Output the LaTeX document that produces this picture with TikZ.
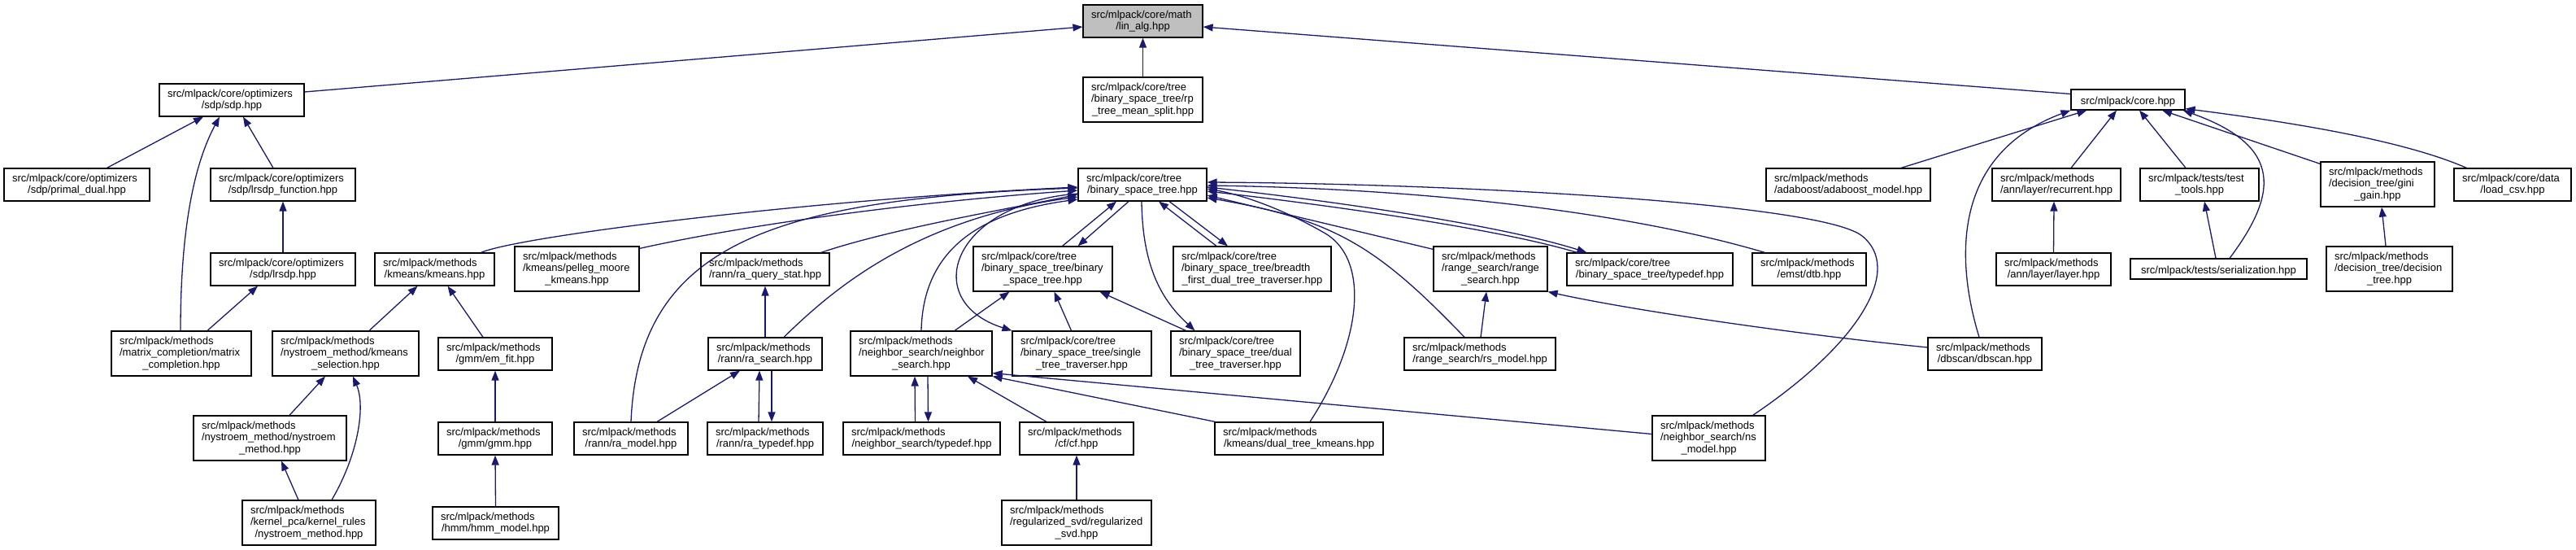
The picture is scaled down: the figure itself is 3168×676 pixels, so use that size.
\documentclass[tikz,border=0pt]{standalone}
\usepackage{fontspec}
\setmainfont{Liberation Sans}
\usetikzlibrary{arrows.meta}
\definecolor{edgec}{RGB}{25,25,112}
\definecolor{rootgray}{RGB}{191,191,191}
\hyphenpenalty=10000
\exhyphenpenalty=10000
\newcommand\lastl[1]{\par\centering #1\par}
\newcommand\nd[7]{\node[nb, minimum width=#4pt, minimum height=#5pt, text width=#6pt] (#1) at (#2,#3) {\raggedright #7};}
\begin{document}
\begin{tikzpicture}[x=1pt,y=-1pt,
  nb/.style={draw=black, line width=1.2pt, fill=white, inner xsep=0pt, inner ysep=1pt,
    font=\fontsize{13}{14.5}\selectfont},
  ar/.style={draw=edgec, line width=1.3pt, -{Triangle[length=12pt,width=9pt]}}]
\useasboundingbox (0,0) rectangle (3168,676);
% nodes
\node[nb, fill=rootgray, minimum width=147pt, minimum height=40pt, text width=127pt] (lin) at (1405.5,26) {\raggedright src/mlpack/core/math\lastl{/lin\_alg.hpp}};
\nd{sdp}{285}{123}{178}{40}{158}{src/mlpack/core/optimizers\lastl{/sdp/sdp.hpp}}
\nd{primal}{94.5}{227}{179}{40}{159}{src/mlpack/core/optimizers\lastl{/sdp/primal\_dual.hpp}}
\nd{lrsdpf}{348}{227}{178}{40}{158}{src/mlpack/core/optimizers\lastl{/sdp/lrsdp\_function.hpp}}
\nd{lrsdp}{348}{331}{178}{40}{158}{src/mlpack/core/optimizers\lastl{/sdp/lrsdp.hpp}}
\nd{matc}{223}{434.5}{172}{55}{152}{src/mlpack/methods\par /matrix\_completion/matrix\lastl{\_completion.hpp}}
\nd{kmeans}{534.5}{331}{147}{40}{127}{src/mlpack/methods\lastl{/kmeans/kmeans.hpp}}
\nd{pelleg}{709.5}{330.5}{153}{55}{133}{src/mlpack/methods\par /kmeans/pelleg\_moore\lastl{\_kmeans.hpp}}
\nd{ksel}{425}{434.5}{180}{55}{160}{src/mlpack/methods\par /nystroem\_method/kmeans\lastl{\_selection.hpp}}
\nd{emfit}{609}{435}{140}{40}{120}{src/mlpack/methods\lastl{/gmm/em\_fit.hpp}}
\nd{nysm}{332}{538.5}{188}{55}{168}{src/mlpack/methods\par /nystroem\_method/nystroem\lastl{\_method.hpp}}
\nd{gmm}{609}{539}{140}{40}{120}{src/mlpack/methods\lastl{/gmm/gmm.hpp}}
\nd{kpca}{380}{642.5}{164}{55}{144}{src/mlpack/methods\par /kernel\_pca/kernel\_rules\lastl{/nystroem\_method.hpp}}
\nd{hmm}{609.5}{643}{155}{40}{135}{src/mlpack/methods\lastl{/hmm/hmm\_model.hpp}}
\nd{rp}{1405.5}{122.5}{147}{55}{127}{src/mlpack/core/tree\par /binary\_space\_tree/rp\lastl{\_tree\_mean\_split.hpp}}
\nd{bst}{1405}{227}{158}{40}{138}{src/mlpack/core/tree\lastl{/binary\_space\_tree.hpp}}
\nd{raqs}{941}{331}{158}{40}{138}{src/mlpack/methods\lastl{/rann/ra\_query\_stat.hpp}}
\nd{bstb}{1282.5}{330.5}{171}{55}{151}{src/mlpack/core/tree\par /binary\_space\_tree/binary\lastl{\_space\_tree.hpp}}
\nd{bstbf}{1540}{330.5}{194}{55}{174}{src/mlpack/core/tree\par /binary\_space\_tree/breadth\lastl{\_first\_dual\_tree\_traverser.hpp}}
\nd{ras}{941}{435}{140}{40}{120}{src/mlpack/methods\lastl{/rann/ra\_search.hpp}}
\nd{nsearch}{1133}{434.5}{174}{55}{154}{src/mlpack/methods\par /neighbor\_search/neighbor\lastl{\_search.hpp}}
\nd{single}{1330.5}{434.5}{171}{55}{151}{src/mlpack/core/tree\par /binary\_space\_tree/single\lastl{\_tree\_traverser.hpp}}
\nd{dual}{1519.5}{434.5}{159}{55}{139}{src/mlpack/core/tree\par /binary\_space\_tree/dual\lastl{\_tree\_traverser.hpp}}
\nd{ramodel}{776}{539}{140}{40}{120}{src/mlpack/methods\lastl{/rann/ra\_model.hpp}}
\nd{ratd}{941}{539}{142}{40}{122}{src/mlpack/methods\lastl{/rann/ra\_typedef.hpp}}
\nd{nstd}{1133.5}{539}{193}{40}{173}{src/mlpack/methods\lastl{/neighbor\_search/typedef.hpp}}
\nd{cf}{1324}{539}{140}{40}{120}{src/mlpack/methods\lastl{/cf/cf.hpp}}
\nd{dtk}{1597.5}{539}{207}{40}{187}{src/mlpack/methods\lastl{/kmeans/dual\_tree\_kmeans.hpp}}
\nd{rsvd}{1324}{642.5}{184}{55}{164}{src/mlpack/methods\par /regularized\_svd/regularized\lastl{\_svd.hpp}}
\nd{rsearch}{1833}{330.5}{140}{55}{120}{src/mlpack/methods\par /range\_search/range\lastl{\_search.hpp}}
\nd{bsttd}{2029}{331}{204}{40}{184}{src/mlpack/core/tree\lastl{/binary\_space\_tree/typedef.hpp}}
\nd{dtb}{2225}{331}{140}{40}{120}{src/mlpack/methods\lastl{/emst/dtb.hpp}}
\nd{rsmodel}{1820}{435}{186}{40}{166}{src/mlpack/methods\lastl{/range\_search/rs\_model.hpp}}
\nd{dbscan}{2441}{435}{140}{40}{120}{src/mlpack/methods\lastl{/dbscan/dbscan.hpp}}
\nd{nsmodel}{2101.5}{538.5}{139}{55}{119}{src/mlpack/methods\par /neighbor\_search/ns\lastl{\_model.hpp}}
\nd{adaboost}{2273}{227}{202}{40}{182}{src/mlpack/methods\lastl{/adaboost/adaboost\_model.hpp}}
\nd{core}{2617}{122.5}{140}{25}{120}{\lastl{src/mlpack/core.hpp}}
\nd{recurrent}{2529}{227}{158}{40}{138}{src/mlpack/methods\lastl{/ann/layer/recurrent.hpp}}
\nd{testtools}{2705}{227}{146}{40}{126}{src/mlpack/tests/test\lastl{\_tools.hpp}}
\nd{gini}{2924}{226.5}{140}{55}{120}{src/mlpack/methods\par /decision\_tree/gini\lastl{\_gain.hpp}}
\nd{loadcsv}{3090}{227}{144}{40}{124}{src/mlpack/core/data\lastl{/load\_csv.hpp}}
\nd{layer}{2525.5}{331}{141}{40}{121}{src/mlpack/methods\lastl{/ann/layer/layer.hpp}}
\nd{serial}{2728.5}{330.5}{217}{25}{197}{\lastl{src/mlpack/tests/serialization.hpp}}
\nd{dtree}{2938.5}{330.5}{155}{55}{135}{src/mlpack/methods\par /decision\_tree/decision\lastl{\_tree.hpp}}
% edges to lin_alg
\draw[ar] ([yshift=10pt]sdp.east) -- ([yshift=-7pt]lin.west);
\draw[ar] (rp.north) -- (lin.south);
\draw[ar] ([yshift=7pt]core.west) -- ([yshift=-7pt]lin.east);
% sdp cluster
\draw[ar] ([xshift=37pt]primal.north) -- ([xshift=-35pt]sdp.south);
\draw[ar] ([xshift=-1pt]matc.north) .. controls (222,260) and (245,190) .. ([xshift=-15pt]sdp.south);
\draw[ar] ([xshift=-12pt]lrsdpf.north) -- ([xshift=14pt]sdp.south);
\draw[ar] (lrsdp.north) -- (lrsdpf.south);
\draw[ar] ([xshift=32pt]matc.north) -- ([xshift=-31pt]lrsdp.south);
% kmeans cluster
\draw[ar] ([xshift=29pt]ksel.north) -- ([xshift=-21pt]kmeans.south);
\draw[ar] ([xshift=-15pt]emfit.north) -- ([xshift=16pt]kmeans.south);
\draw[ar] ([xshift=24pt]nysm.north) -- ([xshift=-25pt]ksel.south);
\draw[ar] ([xshift=28pt]kpca.north) .. controls (440,560) and (450,500) .. ([xshift=9pt]ksel.south);
\draw[ar] ([xshift=-13pt]kpca.north) -- ([xshift=14pt]nysm.south);
\draw[ar] (gmm.north) -- (emfit.south);
\draw[ar] (hmm.north) -- (gmm.south);
% into bst from left
\draw[ar] ([xshift=57pt]kmeans.north) .. controls (640,290) and (1000,245) .. ([yshift=-3pt]bst.west);
\draw[ar] ([yshift=-3pt]pelleg.north east) .. controls (900,280) and (1100,250) .. ([yshift=-7pt]bst.west);
\draw[ar] ([xshift=-11pt]raqs.north east) .. controls (1100,280) and (1250,255) .. ([yshift=-12pt]bst.west);
\draw[ar] ([xshift=23pt]ras.north) .. controls (1020,360) and (1120,270) .. ([yshift=-15pt]bst.west);
\draw[ar] (ramodel.north) .. controls (785,300) and (950,245) .. ([yshift=-4pt]bst.west);
\draw[ar] (nsearch.north) .. controls (1135,310) and (1200,262) .. ([yshift=-18pt]bst.west);
% rann cluster
\draw[ar] (ras.north) -- (raqs.south);
\draw[ar] ([xshift=32pt]ramodel.north) -- ([xshift=-31pt]ras.south);
\draw[ar] ([xshift=-8pt]ratd.north) -- ([xshift=-7pt]ras.south);
\draw[ar] ([xshift=8pt]ras.south) -- ([xshift=8pt]ratd.north);
% neighbor search cluster
\draw[ar] ([xshift=41pt]nsearch.north) -- ([xshift=-41pt]bstb.south);
\draw[ar] ([xshift=-8pt]nstd.north) -- ([xshift=-8pt]nsearch.south);
\draw[ar] ([xshift=8pt]nsearch.south) -- ([xshift=8pt]nstd.north);
\draw[ar] ([xshift=-37pt]cf.north) -- ([xshift=57pt]nsearch.south);
\draw[ar] ([xshift=1pt]dtk.north west) -- (nsearch.south east);
\draw[ar] ([yshift=5pt]nsmodel.west) -- ([yshift=4pt]nsearch.south east);
\draw[ar] (rsvd.north) -- (cf.south);
% tree cluster
\draw[ar] ([xshift=24pt]bstb.north) -- ([xshift=-32pt]bst.south);
\draw[ar] ([xshift=-17pt]bst.south) -- ([xshift=43pt]bstb.north);
\draw[ar] ([xshift=-44pt]bstbf.north) -- ([xshift=20pt]bst.south);
\draw[ar] ([xshift=33pt]bst.south) -- ([xshift=-30pt]bstbf.north);
\draw[ar] ([xshift=-13pt]single.north) -- ([xshift=14pt]bstb.south);
\draw[ar] ([xshift=-61pt]dual.north) -- ([xshift=70pt]bstb.south);
\draw[ar] ([yshift=-11pt]bst.west) .. controls (1170,250) and (1130,370) .. (single.north west);
\draw[ar] ([xshift=-1pt]bst.south) .. controls (1405,330) and (1430,370) .. ([xshift=-50pt]dual.north);
% into bst from right
\draw[ar] ([yshift=-3pt]bst.east) .. controls (1650,248) and (1850,278) .. ([xshift=25pt]bsttd.north west);
\draw[ar] ([xshift=13pt]bsttd.north west) .. controls (1850,283) and (1650,254) .. ([yshift=-8pt]bst.east);
\draw[ar] ([yshift=-4pt]rsearch.north west) -- ([yshift=-13pt]bst.east);
\draw[ar] ([xshift=-19pt]rsmodel.north) .. controls (1693,302) and (1640,270) .. ([yshift=-16pt]bst.east);
\draw[ar] ([xshift=1pt]rsmodel.north) -- ([xshift=-5pt]rsearch.south);
\draw[ar] ([yshift=8pt]dbscan.west) .. controls (2200,410) and (2000,380) .. (rsearch.south east);
\draw[ar] ([xshift=16pt]dtb.north west) .. controls (2000,260) and (1750,232) .. ([yshift=-1pt]bst.east);
\draw[ar] ([xshift=-16pt]nsmodel.north east) .. controls (2290,420) and (2340,330) .. (2290,290) .. controls (2240,250) and (1800,226) .. ([yshift=3pt]bst.east);
\draw[ar] ([xshift=13.5pt]dtk.north) .. controls (1675,420) and (1685,320) .. (1630,287) .. controls (1580,258) and (1530,240) .. ([yshift=-5pt]bst.east);
% core.hpp cluster
\draw[ar] ([xshift=65pt]adaboost.north) -- ([xshift=20pt]core.south west);
\draw[ar] ([xshift=-7pt]dbscan.north) .. controls (2405,320) and (2400,190) .. (core.south west);
\draw[ar] ([xshift=18pt]recurrent.north) -- ([xshift=-14pt]core.south);
\draw[ar] (layer.north) -- ([xshift=-3pt]recurrent.south);
\draw[ar] ([xshift=-17pt]testtools.north) -- ([xshift=14pt]core.south);
\draw[ar] ([xshift=-3.5pt]serial.north) -- ([xshift=6pt]testtools.south);
\draw[ar] ([xshift=13.5pt]serial.north) .. controls (2800,240) and (2810,180) .. ([xshift=-3pt]core.south east);
\draw[ar] ([yshift=-3pt]gini.north west) -- ([xshift=42pt]core.south);
\draw[ar] ([xshift=-4.5pt]dtree.north) -- ([xshift=5pt]gini.south);
\draw[ar] ([xshift=16pt]loadcsv.north west) .. controls (2950,170) and (2800,148) .. ([yshift=2pt]core.south east);
\end{tikzpicture}
\end{document}
